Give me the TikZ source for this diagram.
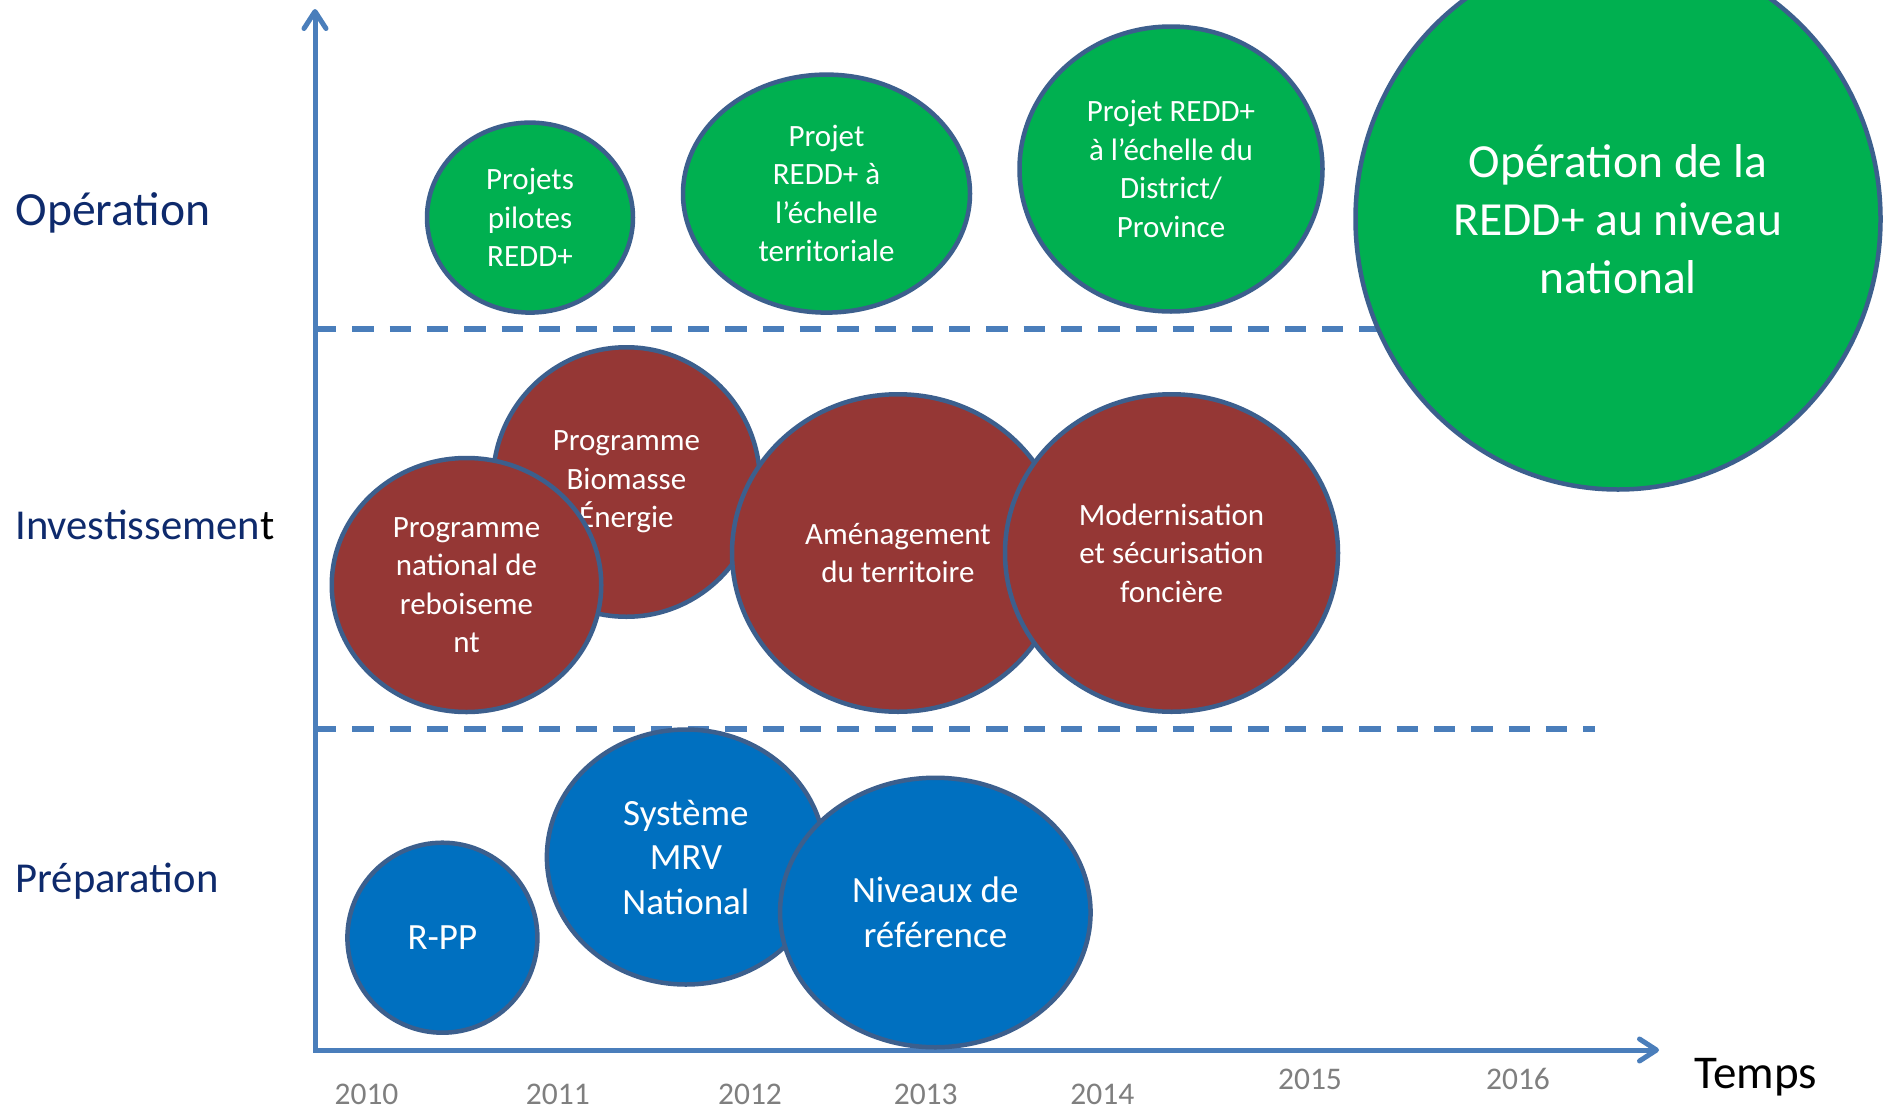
\documentclass[tikz,border=0pt]{standalone}
\usepackage{fontspec}
\setmainfont{Carlito}
\usetikzlibrary{shapes.geometric,arrows.meta}
\definecolor{axisblue}{HTML}{4A7EBB}
\definecolor{edgeblue}{HTML}{3C5F8D}
\definecolor{opgreen}{HTML}{00B050}
\definecolor{invred}{HTML}{953735}
\definecolor{prepblue}{HTML}{0070C0}
\definecolor{navy}{HTML}{0E2A6C}
\definecolor{yeargrey}{HTML}{7F7F7F}
\begin{document}
\begin{tikzpicture}[x=1pt,y=-1pt,
  bubble/.style={ellipse, draw=edgeblue, line width=4.5pt, text=white, align=center, inner sep=0pt},
  smalltxt/.style={font=\fontsize{31}{38.5}\selectfont},
  midtxt/.style={font=\fontsize{37}{44.5}\selectfont},
  bigtxt/.style={font=\fontsize{47.5}{57.7}\selectfont},
  phase/.style={anchor=west, text=navy, font=\fontsize{42.6}{50}\selectfont},
  year/.style={anchor=base, text=yeargrey, font=\fontsize{31.5}{37}\selectfont},
  axisline/.style={draw=axisblue, line width=5pt, line join=miter},
  sepline/.style={draw=axisblue, line width=6pt, dash pattern=on 21.3pt off 16pt},
  barb/.tip={Straight Barb[length=17pt,width=22pt,round]}
]
\useasboundingbox (0,0) rectangle (1885,1111);
\fill[white] (0,0) rectangle (1885,1111);

% coordinates
\coordinate (O) at (315,1050);
\coordinate (ytop) at (315,9);
\coordinate (xend) at (1659,1050);
\coordinate (s1a) at (315,329);
\coordinate (s1b) at (1400,329);
\coordinate (s2a) at (315,729);
\coordinate (s2b) at (1595,729);

% separators and axes
\draw[sepline] (s1a) -- (s1b);
\draw[sepline] (s2a) -- (s2b);
\draw[axisline, barb-barb] (ytop) -- (O) -- (xend);

% Operation
\node[bubble, fill=opgreen, smalltxt, minimum width=206pt, minimum height=190pt] (g1) at (530,217.6) {Projets\\pilotes\\REDD+};
\node[bubble, fill=opgreen, smalltxt, minimum width=287pt, minimum height=238pt] (g2) at (826.5,193.6) {Projet\\REDD+ à\\l’échelle\\territoriale};
\node[bubble, fill=opgreen, smalltxt, minimum width=303pt, minimum height=285pt] (g3) at (1171,169) {Projet REDD+\\à l’échelle du\\District/\\Province};
\node[bubble, fill=opgreen, bigtxt, minimum width=525pt, minimum height=541pt] (g4) at (1618,219) {Opération de la\\REDD+ au niveau\\national};

% Investissement
\node[bubble, fill=invred, smalltxt, minimum width=267pt, minimum height=269.5pt] (r1) at (626.4,482) {Programme\\Biomasse\\Énergie};
\node[bubble, fill=invred, smalltxt, minimum width=269.5pt, minimum height=254pt] (r2) at (466.5,585) {Programme\\national de\\reboiseme\\nt};
\node[bubble, fill=invred, smalltxt, minimum width=332pt, minimum height=317.5pt] (r3) at (898,553) {Aménagement\\du territoire};
\node[bubble, fill=invred, smalltxt, minimum width=333pt, minimum height=317.5pt] (r4) at (1171.5,553) {Modernisation\\et sécurisation\\foncière};

% Preparation
\node[bubble, fill=prepblue, midtxt, minimum width=190pt, minimum height=190pt] (b1) at (442.4,937.7) {R-PP};
\node[bubble, fill=prepblue, midtxt, minimum width=278pt, minimum height=255pt] (b2) at (685.9,857) {Système\\MRV\\National};
\node[bubble, fill=prepblue, midtxt, minimum width=310.5pt, minimum height=269.5pt] (b3) at (935.3,912.5) {Niveaux de\\référence};

% phase labels
\node[phase, font=\fontsize{47.6}{56}\selectfont] (lop) at (12,213) {Opération};
\node[phase] (linv) at (12,525.4) {Investissemen{\color{black}t}};
\node[phase] (lprep) at (12,881.5) {Préparation};

% years
\node[year] (y2010) at (366.5,1104) {2010};
\node[year] (y2011) at (557.8,1104) {2011};
\node[year] (y2012) at (750,1104) {2012};
\node[year] (y2013) at (925.7,1104) {2013};
\node[year] (y2014) at (1102.4,1104) {2014};
\node[year] (y2015) at (1310,1089.8) {2015};
\node[year] (y2016) at (1518,1089.8) {2016};

\node[anchor=base, font=\fontsize{47}{55}\selectfont] (temps) at (1756,1088) {Temps};
\end{tikzpicture}
\end{document}
